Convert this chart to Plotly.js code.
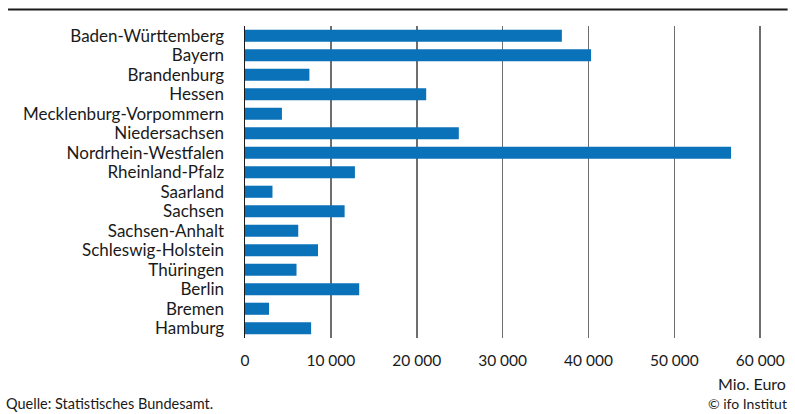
<!DOCTYPE html>
<html>
<head>
<meta charset="utf-8">
<script src="https://cdn.plot.ly/plotly-3.0.1.min.js"></script>
<style>html,body{margin:0;padding:0;background:#fff;}#chart{width:795px;height:414px;}</style>
</head>
<body>
<div id="chart"></div>
<script>
const states = ["Baden-Württemberg","Bayern","Brandenburg","Hessen","Mecklenburg-Vorpommern","Niedersachsen","Nordrhein-Westfalen","Rheinland-Pfalz","Saarland","Sachsen","Sachsen-Anhalt","Schleswig-Holstein","Thüringen","Berlin","Bremen","Hamburg"];
const values = [36900,40300,7500,21100,4300,24900,56600,12800,3200,11600,6200,8500,6000,13300,2800,7700];
const unitLabel = "Mio. Euro";
const sourceText = "Quelle: Statistisches Bundesamt.";
const creditText = "© ifo Institut";
const xTicks = [0,10000,20000,30000,40000,50000,60000];

const fontFam = "Lato, 'Source Sans Pro', sans-serif";
const data = [{
  type: 'bar', orientation: 'h',
  y: states, x: values,
  marker: {color: '#0a72b9', line: {width: 0}},
  hoverinfo: 'skip'
}];
const layout = {
  width: 795, height: 414,
  margin: {l: 245, r: 9, t: 26, b: 76},
  paper_bgcolor: '#fff', plot_bgcolor: '#fff',
  font: {family: fontFam, color: '#1a1a1a', size: 15},
  separators: ', ',
  bargap: 0.38,
  showlegend: false,
  xaxis: {
    range: [0, 63000], tickvals: xTicks, tickformat: ',d',
    showgrid: true, gridcolor: '#6e6e6e', gridwidth: 1.5,
    zeroline: false, showline: false, ticks: '',
    ticklabelstandoff: 11,
    tickfont: {size: 15.5, family: fontFam, color: '#1a1a1a'},
    fixedrange: true
  },
  yaxis: {
    autorange: 'reversed', type: 'category',
    tickmode: 'array', tickvals: states, ticktext: states,
    showline: true, linecolor: '#1a1a1a', linewidth: 1.5,
    showgrid: false, zeroline: false, ticks: '',
    ticklabelstandoff: 16,
    tickfont: {size: 17, family: fontFam, color: '#1a1a1a'},
    fixedrange: true
  },
  shapes: [{type: 'line', xref: 'paper', yref: 'paper', x0: -0.438, x1: 1.003, y0: 1.053, y1: 1.053, line: {color: '#1a1a1a', width: 2}}],
  annotations: [
    {text: unitLabel, xref: 'paper', yref: 'paper', x: 1.003, y: -0.147, xanchor: 'right', yanchor: 'middle', showarrow: false, font: {size: 16, family: fontFam, color: '#1a1a1a'}},
    {text: sourceText, xref: 'paper', yref: 'paper', x: -0.445, y: -0.2436, xanchor: 'left', yanchor: 'bottom', showarrow: false, font: {size: 14.5, family: fontFam, color: '#1a1a1a'}},
    {text: creditText, xref: 'paper', yref: 'paper', x: 1.006, y: -0.2436, xanchor: 'right', yanchor: 'bottom', showarrow: false, font: {size: 14, family: fontFam, color: '#1a1a1a'}}
  ]
};
Plotly.newPlot('chart', data, layout, {displayModeBar: false, staticPlot: true});
</script>
</body>
</html>
